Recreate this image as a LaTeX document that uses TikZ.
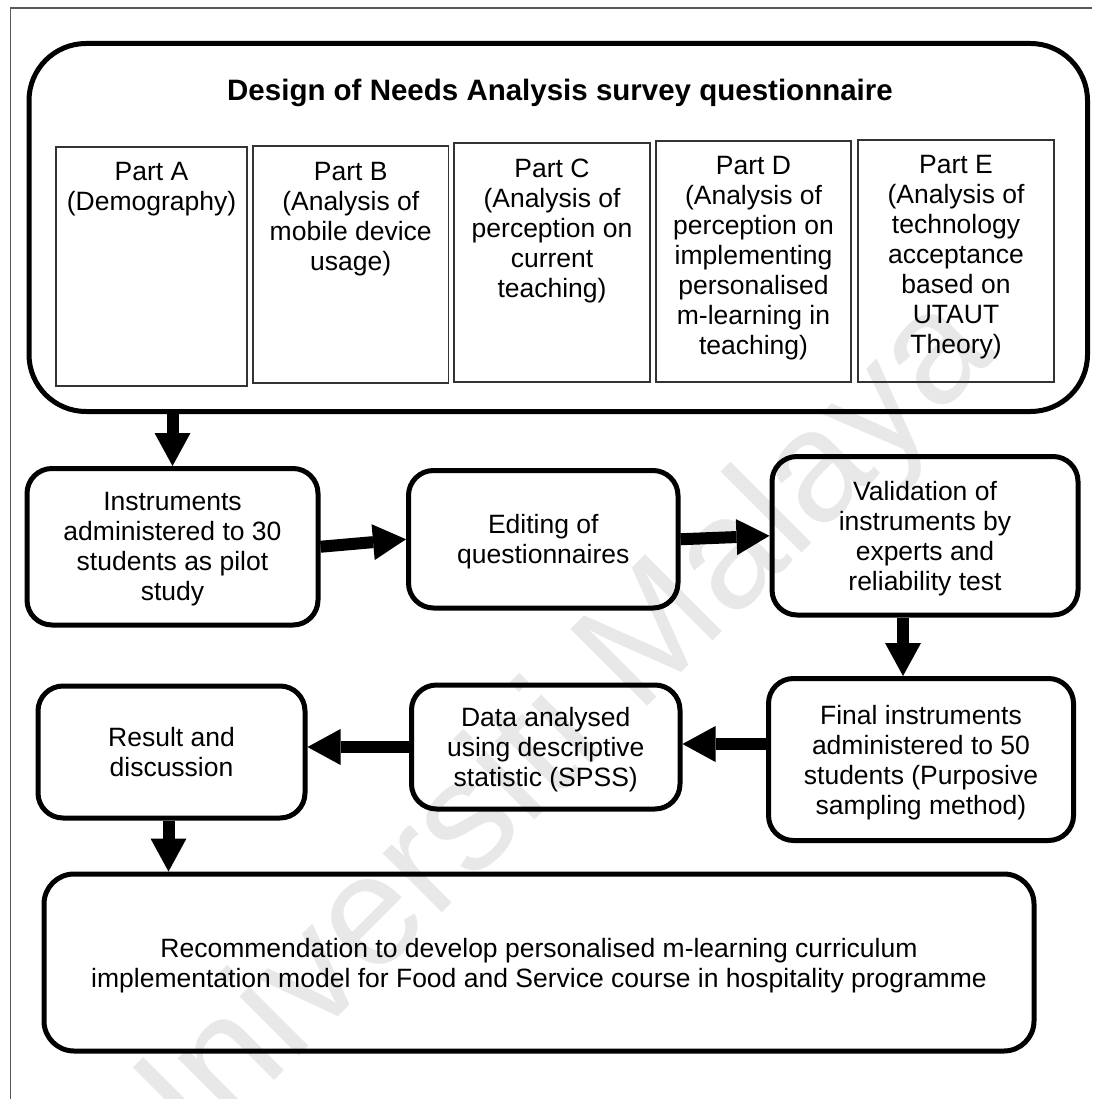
\documentclass[tikz,border=0pt]{standalone}
\usepackage{fontspec}
\setmainfont{Liberation Sans}
\usetikzlibrary{arrows.meta}
\begin{document}
\begin{tikzpicture}[x=1pt,y=-1pt,
  txt/.style={font=\fontsize{26.5}{30}\selectfont, align=center},
  flowbox/.style={draw, line width=5pt, rounded corners=25pt, txt, inner sep=0pt, text depth=-2.5pt},
  partbox/.style={draw=black!80, line width=1.5pt, inner sep=0pt},
  parttext/.style={txt, anchor=north, inner sep=0pt},
  bigarrow/.style={line width=12pt, -{Triangle[length=33pt,width=36pt,line width=0pt]}},
]
\useasboundingbox (0,0) rectangle (1092,1099);
\fill[white] (0,0) rectangle (1092,1099);

% watermark
\node[text=black!9, font=\fontsize{158}{158}\selectfont, rotate=45] (wm) at (545,752) {Universiti Malaya};

% page frame
\draw[black!65, line width=1.3pt] (10.5,1099) -- (10.5,8) -- (1092,8);

% questionnaire design block
\node[draw, line width=5pt, rounded corners=57pt, inner sep=0pt, minimum width=1058.5pt, minimum height=368pt] (big) at (558.25,227.5) {};
\node[font=\fontsize{29.5}{34}\selectfont\bfseries] (title) at (560,93) {Design of Needs Analysis survey questionnaire};

\node[partbox, minimum width=191pt, minimum height=239pt] (pA) at (151.5,266.5) {};
\node[parttext] (pAt) at ([yshift=-16pt]pA.north) {Part A\\(Demography)};
\node[partbox, minimum width=195.5pt, minimum height=237pt] (pB) at (350.75,264.5) {};
\node[parttext] (pBt) at ([yshift=-17pt]pB.north) {Part B\\(Analysis of\\mobile device\\usage)};
\node[partbox, minimum width=196pt, minimum height=239pt] (pC) at (552,262.5) {};
\node[parttext] (pCt) at ([yshift=-17pt]pC.north) {Part C\\(Analysis of\\perception on\\current\\teaching)};
\node[partbox, minimum width=195pt, minimum height=241pt] (pD) at (753.5,261.5) {};
\node[parttext] (pDt) at ([yshift=-16pt]pD.north) {Part D\\(Analysis of\\perception on\\implementing\\personalised\\m-learning in\\teaching)};
\node[partbox, minimum width=196pt, minimum height=242pt] (pE) at (956,261) {};
\node[parttext] (pEt) at ([yshift=-16pt]pE.north) {Part E\\(Analysis of\\technology\\acceptance\\based on\\UTAUT\\Theory)};

% process steps
\node[flowbox, minimum width=291pt, minimum height=156.5pt] (ins) at (172.5,546.75) {Instruments\\administered to 30\\students as pilot\\study};
\node[flowbox, minimum width=269.5pt, minimum height=137.5pt] (edit) at (543.25,539.25) {Editing of\\questionnaires};
\node[flowbox, minimum width=306pt, minimum height=158.5pt] (val) at (925,535.75) {Validation of\\instruments by\\experts and\\reliability test};
\node[flowbox, minimum width=305pt, minimum height=162pt] (fin) at (921,759.5) {Final instruments\\administered to 50\\students (Purposive\\sampling method)};
\node[flowbox, minimum width=268.5pt, minimum height=124pt] (data) at (545.75,747) {Data analysed\\using descriptive\\statistic (SPSS)};
\node[flowbox, minimum width=267pt, minimum height=132pt] (res) at (171.5,752) {Result and\\discussion};
\node[flowbox, rounded corners=30pt, minimum width=990pt, minimum height=177pt] (rec) at (539,962.5) {Recommendation to develop personalised m-learning curriculum\\implementation model for Food and Service course in hospitality programme};

% connectors
\draw[bigarrow] (ins.north |- big.south) -- (ins.north);
\draw[bigarrow] (ins.east) -- (edit.west);
\draw[bigarrow] (edit.east) -- (val.west);
\draw[bigarrow] ([xshift=-22pt]val.south) -- ([xshift=-22pt]val.south |- fin.north);
\draw[bigarrow] ([yshift=3pt]data.east -| fin.west) -- ([yshift=3pt]data.east);
\draw[bigarrow] (data.west) -- (data.west -| res.east);
\draw[bigarrow] ([xshift=-3pt]res.south) -- ([xshift=-3pt]res.south |- rec.north);
\end{tikzpicture}
\end{document}
